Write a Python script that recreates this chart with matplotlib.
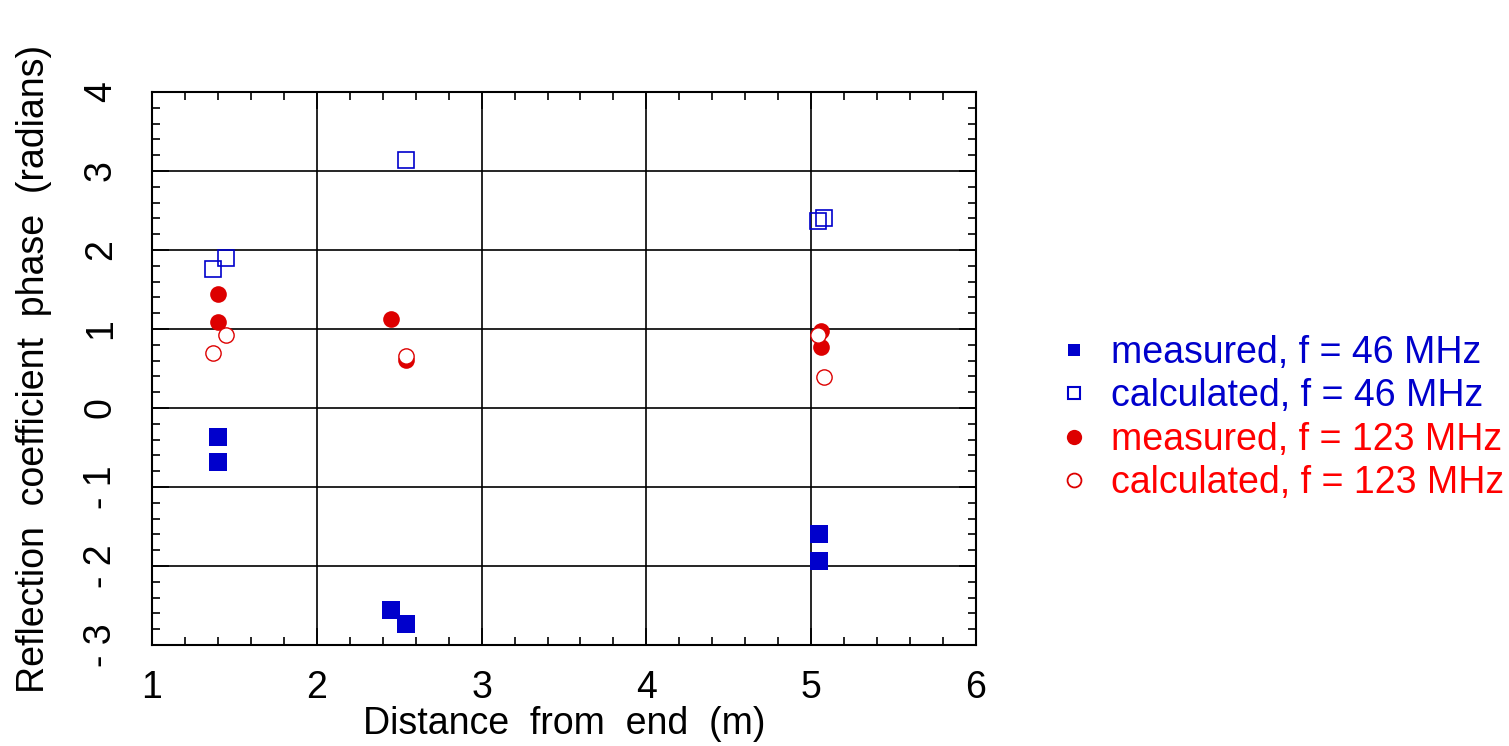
import matplotlib
matplotlib.use("Agg")
import matplotlib.pyplot as plt
from matplotlib.lines import Line2D
from matplotlib.ticker import MultipleLocator

plt.rcParams['font.family'] = ['Liberation Sans', 'DejaVu Sans']

# Data
meas46_x = [1.40, 1.40, 2.45, 2.54, 5.05, 5.05]
meas46_y = [-0.37, -0.68, -2.56, -2.73, -1.59, -1.94]
calc46_x = [1.37, 1.45, 2.54, 5.04, 5.08]
calc46_y = [1.76, 1.90, 3.14, 2.37, 2.41]
meas123_x = [1.40, 1.40, 2.45, 2.54, 5.06, 5.06]
meas123_y = [1.44, 1.09, 1.13, 0.61, 0.97, 0.77]
calc123_x = [1.37, 1.45, 2.54, 5.04, 5.08]
calc123_y = [0.70, 0.93, 0.66, 0.92, 0.39]
x_ticks = [1, 2, 3, 4, 5, 6]
y_ticks = [-3, -2, -1, 0, 1, 2, 3, 4]
y_tick_labels = ['- 3', '- 2', '- 1', '0', '1', '2', '3', '4']
legend_labels = ['measured, f = 46 MHz', 'calculated, f = 46 MHz',
                 'measured, f = 123 MHz', 'calculated, f = 123 MHz']

blue = '#0000cc'
red = '#dd0000'

fig = plt.figure(figsize=(15.09, 7.46), dpi=100)
ax = fig.add_axes([152/1509, 1-645/746, (976-152)/1509, (645-92)/746])

ax.plot(meas46_x, meas46_y, 's', color=blue, ms=12.5, mec=blue, mew=0, zorder=3)
ax.plot(calc46_x, calc46_y, 's', mfc='none', mec=blue, ms=11.5, mew=1.2, zorder=3)
ax.plot(meas123_x, meas123_y, 'o', color=red, ms=12, mew=0, zorder=3)
ax.plot(calc123_x, calc123_y, 'o', mfc='white', mec=red, ms=11, mew=1.0, zorder=4)

ax.set_xlim(1, 6)
ax.set_ylim(-3, 4)
ax.set_xticks(x_ticks)
ax.set_xticklabels([str(v) for v in x_ticks])
ax.set_yticks(y_ticks)
ax.set_yticklabels(y_tick_labels, rotation=90, va='center')
ax.xaxis.set_minor_locator(MultipleLocator(0.2))
ax.yaxis.set_minor_locator(MultipleLocator(0.2))
ax.tick_params(which='both', direction='in', top=True, right=True, labelsize=27, width=1.2)
ax.tick_params(which='major', length=12)
ax.tick_params(axis='x', which='major', pad=18)
ax.tick_params(axis='y', which='major', pad=24)
ax.tick_params(which='minor', length=6)
ax.grid(True, which='major', color='black', lw=1.2)
ax.set_axisbelow(True)
for s in ax.spines.values():
    s.set_linewidth(1.5)

ax.set_xlabel('Distance  from  end  (m)', fontsize=27, labelpad=0)
ax.set_ylabel('Reflection  coefficient  phase  (radians)', fontsize=27, labelpad=22)

handles = [
    Line2D([], [], ls='none', marker='s', color=blue, ms=9, mew=0),
    Line2D([], [], ls='none', marker='s', mfc='none', mec=blue, ms=8, mew=1.5),
    Line2D([], [], ls='none', marker='o', color=red, ms=11, mew=0),
    Line2D([], [], ls='none', marker='o', mfc='none', mec=red, ms=10, mew=1.3),
]
leg = fig.legend(handles, legend_labels, loc='center left',
                 bbox_to_anchor=(1021/1509, 1-418/746), frameon=False,
                 fontsize=27, labelspacing=0.2, handletextpad=0.5,
                 handlelength=1.0, labelcolor=[blue, blue, '#ff0000', '#ff0000'])

fig.savefig('out.png', dpi=100)
